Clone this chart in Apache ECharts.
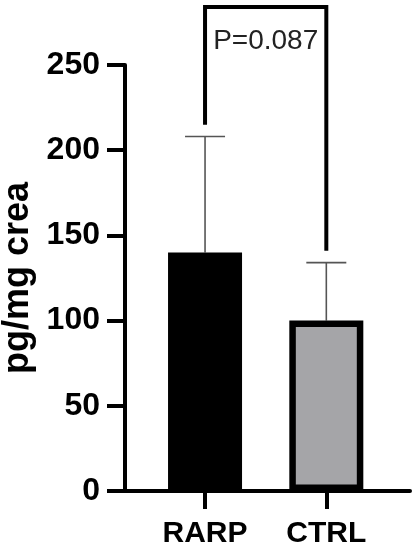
<!DOCTYPE html>
<html>
<head>
<meta charset="utf-8">
<style>
    html, body { margin: 0; padding: 0; background: #fff; }
    #chart { width: 417px; height: 550px; }
</style>
</head>
<body>
<div id="chart"></div>
<script src="https://cdn.jsdelivr.net/npm/echarts@6.0.0/dist/echarts.min.js"></script>
<script>
    // groups and values
    var groups = ['RARP', 'CTRL'];
    var groupPos = [1, 2];
    var means = [140, 100];
    var upperSD = [208, 134];
    var barColors = ['#000000', '#a5a5a8'];

    // significance bracket (in y units)
    var bracketTop = 284;
    var bracketLegs = [215, 141];
    var pText = 'P=0.087';
    var pTextY = 264;

    var myChart = echarts.init(document.getElementById('chart'));

    var barData = groupPos.map(function (x, i) {
        return {
            value: [x, means[i]],
            itemStyle: {
                color: barColors[i],
                borderColor: '#000',
                borderWidth: i === 0 ? 6 : 6.5
            }
        };
    });

    var errData = groupPos.map(function (x, i) {
        return [x, means[i], upperSD[i]];
    });

    var option = {
        animation: false,
        backgroundColor: '#fff',
        grid: { left: 125, right: 7, top: 65, bottom: 59, containLabel: false, outerBoundsMode: 'none' },
        xAxis: {
            type: 'value',
            min: 0.34,
            max: 2.69,
            splitLine: { show: false },
            axisLine: { show: true, lineStyle: { color: '#000', width: 4 } },
            axisTick: {
                show: true, length: 18, customValues: groupPos,
                lineStyle: { color: '#000', width: 4 }
            },
            axisLabel: {
                customValues: groupPos,
                margin: 28,
                color: '#000',
                fontFamily: 'Liberation Sans, Arial, sans-serif',
                fontWeight: 'bold',
                fontSize: 30,
                formatter: function (v) {
                    return groups[groupPos.indexOf(Math.round(v))] || '';
                }
            }
        },
        yAxis: {
            type: 'value',
            min: 0,
            max: 250,
            interval: 50,
            name: 'pg/mg crea',
            nameLocation: 'middle',
            nameRotate: 90,
            nameGap: 86,
            nameTextStyle: {
                color: '#000',
                fontFamily: 'Liberation Sans, Arial, sans-serif',
                fontWeight: 'bold',
                fontSize: 36
            },
            splitLine: { show: false },
            axisLine: { show: true, lineStyle: { color: '#000', width: 4 } },
            axisTick: { show: true, length: 18, lineStyle: { color: '#000', width: 4 } },
            axisLabel: {
                margin: 25,
                color: '#000',
                fontFamily: 'Liberation Sans, Arial, sans-serif',
                fontWeight: 'bold',
                fontSize: 32
            }
        },
        series: [
            {
                type: 'custom',
                data: errData,
                z: 1,
                renderItem: function (params, api) {
                    var x = api.value(0);
                    var base = api.coord([x, api.value(1)]);
                    var top = api.coord([x, api.value(2)]);
                    var style = { stroke: '#555', lineWidth: 1.6 };
                    return {
                        type: 'group',
                        children: [
                            { type: 'line', shape: { x1: base[0], y1: base[1], x2: top[0], y2: top[1] }, style: style },
                            { type: 'line', shape: { x1: top[0] - 20, y1: top[1], x2: top[0] + 20, y2: top[1] }, style: style }
                        ]
                    };
                }
            },
            {
                type: 'bar',
                barWidth: 74,
                z: 2,
                data: barData
            },
            {
                type: 'custom',
                data: [[groupPos[0], groupPos[1]]],
                z: 3,
                clip: false,
                renderItem: function (params, api) {
                    var xa = api.value(0), xb = api.value(1);
                    var a0 = api.coord([xa, bracketLegs[0]]);
                    var a1 = api.coord([xa, bracketTop]);
                    var b1 = api.coord([xb, bracketTop]);
                    var b0 = api.coord([xb, bracketLegs[1]]);
                    var t = api.coord([(xa + xb) / 2, pTextY]);
                    return {
                        type: 'group',
                        children: [
                            {
                                type: 'polyline',
                                shape: { points: [a0, a1, b1, b0] },
                                style: { stroke: '#000', lineWidth: 4, fill: null, lineJoin: 'miter' }
                            },
                            {
                                type: 'text',
                                x: t[0], y: t[1],
                                style: {
                                    text: pText,
                                    fill: '#222',
                                    font: '28px "Liberation Sans", Arial, sans-serif',
                                    align: 'center',
                                    verticalAlign: 'middle'
                                }
                            }
                        ]
                    };
                }
            }
        ]
    };

    myChart.setOption(option);
</script>
</body>
</html>
